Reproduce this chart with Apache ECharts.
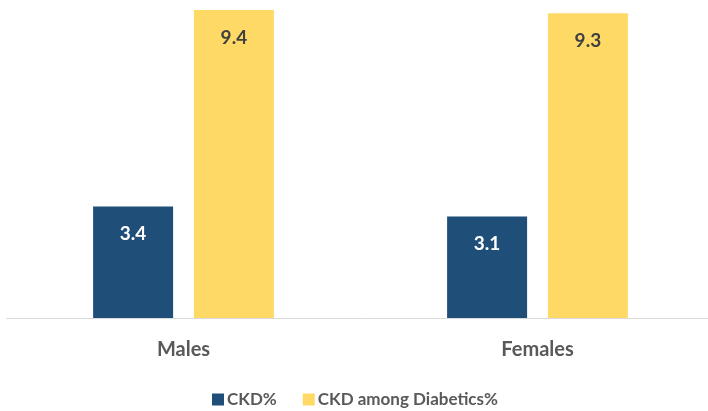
<!DOCTYPE html>
<html>
<head>
<meta charset="utf-8">
<script src="https://cdn.jsdelivr.net/npm/echarts@6/dist/echarts.min.js"></script>
<style>html,body{margin:0;padding:0;background:#fff;overflow:hidden}#c{width:716px;height:411px}</style>
</head>
<body>
<div id="c"></div>
<script>
const categories = ['Males', 'Females'];
const seriesNames = ['CKD%', 'CKD among Diabetics%'];
const ckd = [3.4, 3.1];
const ckdDiabetics = [9.4, 9.3];

const chart = echarts.init(document.getElementById('c'), null, {renderer: 'canvas'});
const font = 'Lato, "Open Sans", sans-serif';
chart.setOption({
  animation: false,
  backgroundColor: '#ffffff',
  grid: {left: 6.5, right: 1.5, top: 10, bottom: 93, containLabel: false},
  legend: {
    data: seriesNames,
    bottom: -2,
    left: 207,
    itemWidth: 12,
    itemHeight: 12,
    itemGap: 26,
    icon: 'rect',
    textStyle: {color: '#595959', fontSize: 17, fontWeight: 'bold', fontFamily: font, padding: [0, 0, 0, -2]}
  },
  xAxis: {
    type: 'category',
    data: categories,
    axisLine: {lineStyle: {color: '#d9d9d9', width: 1}},
    axisTick: {show: false},
    axisLabel: {color: '#595959', fontSize: 20, fontWeight: 'bold', fontFamily: font, margin: 22}
  },
  yAxis: {
    type: 'value',
    min: 0,
    max: 9.4,
    show: false,
    splitLine: {show: false}
  },
  series: [
    {
      name: seriesNames[0],
      type: 'bar',
      data: ckd,
      barWidth: 80,
      barGap: '26%',
      itemStyle: {color: '#1F4E79'},
      label: {show: true, position: 'insideTop', distance: 18, color: '#ffffff', fontSize: 19, fontWeight: 'bold', fontFamily: font, formatter: p => p.value.toFixed(1)}
    },
    {
      name: seriesNames[1],
      type: 'bar',
      data: ckdDiabetics,
      barWidth: 80,
      itemStyle: {color: '#FFD966'},
      label: {show: true, position: 'insideTop', distance: 18, color: '#404040', fontSize: 19, fontWeight: 'bold', fontFamily: font, formatter: p => p.value.toFixed(1)}
    }
  ]
});
</script>
</body>
</html>
